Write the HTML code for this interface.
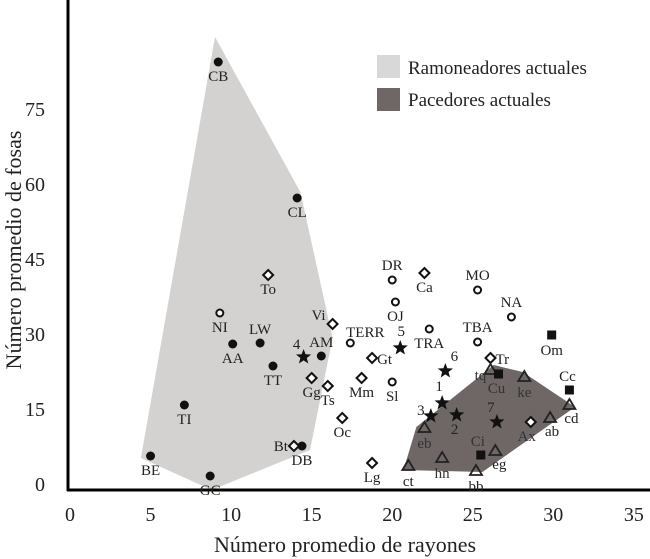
<!DOCTYPE html>
<html><head><meta charset="utf-8"><style>
body{margin:0;background:#fff}
svg{display:block;font-family:"Liberation Serif",serif}
</style></head><body>
<svg id="chart" width="650" height="559" viewBox="0 0 650 559"></svg>
<script>
const xTicks=[0,5,10,15,20,25,30,35];
const yTicks=[0,15,30,45,60,75];
const filledNames=["CB","CL","TI","BE","GC","AA","LW","TT","AM","DB"];
const filledX=[9.2,14.1,7.1,5.0,8.7,10.1,11.8,12.6,15.6,14.4];
const filledY=[84.4,57.2,15.8,5.6,1.6,28,28.2,23.6,25.6,7.6];
const openNames=["NI","DR","OJ","TERR","TRA","Sl","MO","NA","TBA"];
const openX=[9.3,20.0,20.2,17.4,22.3,20.0,25.3,27.4,25.3];
const openY=[34.2,40.8,36.4,28.2,31,20.4,38.8,33.4,28.4];
const diaNames=["To","Vi","Gt","Mm","Gg","Ts","Oc","Bt","Lg","Ca","Tr","Ax"];
const diaX=[12.3,16.3,18.75,18.1,15.0,16.0,16.9,13.9,18.75,22.0,26.1,28.6];
const diaY=[41.8,32,25.2,21.2,21.2,19.6,13.2,7.6,4.2,42.2,25.2,12.4];
const starNames=["4","5","6","1","3","2","7"];
const starX=[14.5,20.5,23.3,23.1,22.4,24.0,26.5];
const starY=[25.4,27.2,22.6,16.2,13.6,13.8,12.4];
const triNames=["tq","ke","cd","ab","eb","eg","ct","hn","bb"];
const triX=[26.1,28.2,31.0,29.8,22.0,26.4,21.0,23.1,25.2];
const triY=[22.8,21.4,15.8,13.2,11.2,6.6,3.6,5.2,2.6];
const sqNames=["Om","Cc","Cu","Ci"];
const sqX=[29.9,31.0,26.6,25.5];
const sqY=[29.8,18.8,22,5.8];
const browseX=[9.0,14.3,16.3,14.9,8.8,4.4];
const browseY=[89.4,58.4,29.2,6.8,-1.2,5.2];
const grazeX=[26.3,28.1,31.35,25.6,20.7,21.5];
const grazeY=[23.8,22.4,15.4,2.4,2.8,11.4];

const X=v=>70+v*16.11, Y=v=>484-v*5;
const svg=document.getElementById('chart');
const NS='http://www.w3.org/2000/svg';
function mk(tag,attrs,parent){const e=document.createElementNS(NS,tag);for(const k in attrs)e.setAttribute(k,attrs[k]);(parent||svg).appendChild(e);return e;}
function txt(s,x,y,size,anchor,fill){const t=mk('text',{x:x,y:y,'font-size':size,'text-anchor':anchor||'middle',fill:fill||'#222'});t.textContent=s;return t;}

let p=mk('polygon',{points:browseX.map((v,i)=>X(v)+','+Y(browseY[i])).join(' '),fill:'#d3d2d0'});


p=mk('polygon',{points:grazeX.map((v,i)=>X(v)+','+Y(grazeY[i])).join(' '),fill:'#6f6666'});



let a=mk('line',{x1:68,y1:0,x2:68,y2:491,stroke:'#000','stroke-width':3});


a=mk('line',{x1:67,y1:490,x2:650,y2:490,stroke:'#000','stroke-width':3});


xTicks.forEach(v=>{const t=txt(String(v),X(v),521,20);});
yTicks.forEach(v=>{const t=txt(String(v),45,Y(v)+7,20,'end');});
let t=txt('Número promedio de rayones',345,552,22);


t=txt('Número promedio de fosas',0,0,22);
t.setAttribute('transform','translate(21,250) rotate(-90)');



function label(s,x,y,dx,dy,anchor,fill){const l=txt(s,x+dx,y+dy,15,anchor||'middle',fill);}
filledNames.forEach((n,i)=>{const cx=X(filledX[i]),cy=Y(filledY[i]);
 const m=mk('circle',{cx:cx,cy:cy,r:4.5,fill:'#111'});
 
 
 const up=(n==='LW'||n==='AM');label(n,cx,cy,up?0:0,up?-9:19);});
openNames.forEach((n,i)=>{const cx=X(openX[i]),cy=Y(openY[i]);
 const m=mk('circle',{cx:cx,cy:cy,r:3.5,fill:'#fff',stroke:'#111','stroke-width':2});
 
 
 const up=['DR','MO','NA','TBA','TERR'].includes(n);
 if(n==='TRA')label(n,cx,cy,0,19);else if(n==='TERR')label(n,cx,cy,15,-6);else label(n,cx,cy,0,up?-10:19);});
diaNames.forEach((n,i)=>{const cx=X(diaX[i]),cy=Y(diaY[i]);
 const m=mk('polygon',{points:`${cx},${cy-5} ${cx+5},${cy} ${cx},${cy+5} ${cx-5},${cy}`,fill:'#fff',stroke:'#111','stroke-width':2});
 
 
 if(n==='Vi')label(n,cx,cy,-7,-4,'end');else if(n==='Gt'||n==='Tr')label(n,cx,cy,5,6,'start');else if(n==='Bt')label(n,cx,cy,-6,5,'end');else if(n==='Ax')label(n,cx,cy,-4,19,'middle','#333');else label(n,cx,cy,0,19);});
function star(cx,cy,r){let s='';for(let k=0;k<10;k++){const rr=k%2?r*0.42:r;const ang=-Math.PI/2+k*Math.PI/5;s+=(cx+rr*Math.cos(ang))+','+(cy+rr*Math.sin(ang))+' ';}return s;}
starNames.forEach((n,i)=>{const cx=X(starX[i]),cy=Y(starY[i]);
 const m=mk('polygon',{points:star(cx,cy,8),fill:'#111'});
 
 
 const off={"4":[-7,-8],"5":[1,-12],"6":[9,-10],"1":[-3,-12],"3":[-10,-1],"2":[-2,19],"7":[-6,-10]}[n];
 label(n,cx,cy,off[0],off[1]);});
triNames.forEach((n,i)=>{const cx=X(triX[i]),cy=Y(triY[i]);
 const m=mk('polygon',{points:`${cx},${cy-6} ${cx+6},${cy+4} ${cx-6},${cy+4}`,fill:'none',stroke:'#222','stroke-width':1.8});
 
 
 const inside=['tq','ke','eb','hn'].includes(n);
 if(n==='tq')label(n,cx,cy,-10,10,'middle','#333');else if(n==='eg')label(n,cx,cy,4,18,'middle','#222');else if(n==='cd'||n==='ab')label(n,cx,cy,2,18,'middle','#222');else label(n,cx,cy,0,20,'middle',inside?'#333':'#222');});
sqNames.forEach((n,i)=>{const cx=X(sqX[i]),cy=Y(sqY[i]);
 const m=mk('rect',{x:cx-4.5,y:cy-4.5,width:9,height:9,fill:'#111'});
 
 
 if(n==='Cc')label(n,cx,cy,-2,-9);else if(n==='Ci')label(n,cx,cy,-3,-9,'middle','#333');else if(n==='Cu')label(n,cx,cy,-2,19,'middle','#333');else label(n,cx,cy,0,20);});

const lg=mk('g',{});


let b=mk('rect',{x:377,y:55,width:23,height:23,fill:'#d8d8d8'},lg);


b=mk('rect',{x:377,y:88,width:23,height:23,fill:'#6f6666'},lg);


t=txt('Ramoneadores actuales',408,74,19,'start');


t=txt('Pacedores actuales',408,106,19,'start');


</script>
</body></html>
